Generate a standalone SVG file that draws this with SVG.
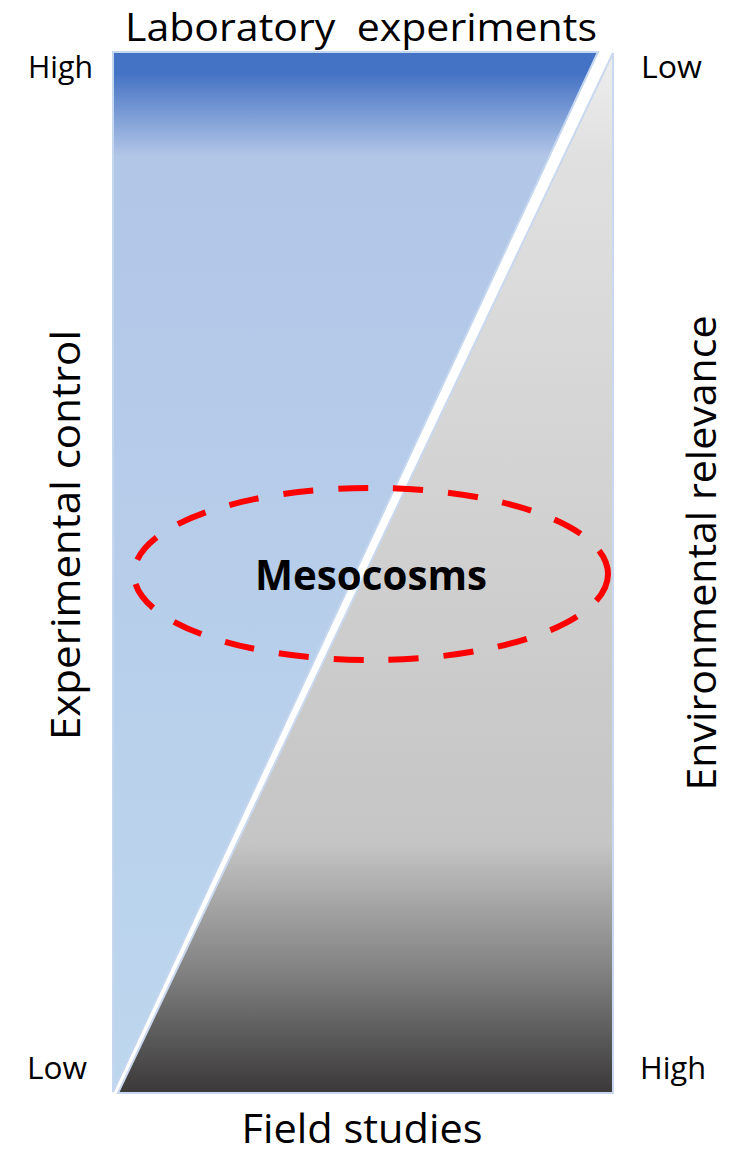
<svg xmlns="http://www.w3.org/2000/svg" width="746" height="1153" viewBox="0 0 746 1153">
  <style>
    .lbl { font-family: "Open Sans", "Liberation Sans", sans-serif; fill: #000; }
    .axis { font-size: 31px; }
    .title { font-size: 40px; }
    .top { font-size: 38px; }
  </style>
  <defs>
    <linearGradient id="gradControl" gradientUnits="userSpaceOnUse" x1="0" y1="52" x2="0" y2="1092">
      <stop offset="0" stop-color="#4472c4"/>
      <stop offset="0.02" stop-color="#4472c4"/>
      <stop offset="0.1" stop-color="#b2c6e7"/>
      <stop offset="1" stop-color="#bdd7ee"/>
    </linearGradient>
    <linearGradient id="gradRelevance" gradientUnits="userSpaceOnUse" x1="0" y1="53" x2="0" y2="1093">
      <stop offset="0" stop-color="#eeeeee"/>
      <stop offset="0.1" stop-color="#e0e0e0"/>
      <stop offset="0.5" stop-color="#cfcfcf"/>
      <stop offset="0.76" stop-color="#c5c5c5"/>
      <stop offset="0.88" stop-color="#838383"/>
      <stop offset="1" stop-color="#3a3838"/>
    </linearGradient>
  </defs>

  <!-- left wedge: experimental control, high at the top -->
  <g id="experimental-control-wedge">
    <polygon points="113,52 598,52 113,1092" fill="url(#gradControl)" stroke="#c5d6ef" stroke-width="2" stroke-linejoin="miter"/>
  </g>

  <!-- right wedge: environmental relevance, high at the bottom -->
  <g id="environmental-relevance-wedge">
    <polygon points="613,53 613,1093 118,1093" fill="url(#gradRelevance)" stroke="#c9d8ef" stroke-width="2" stroke-linejoin="miter"/>
  </g>

  <g id="mesocosms">
    <ellipse cx="371" cy="574" rx="237" ry="86" fill="none" stroke="#ff0000" stroke-width="6" stroke-dasharray="30 25"/>
    <text x="371" y="590" text-anchor="middle" font-family="'Open Sans', 'Liberation Sans', sans-serif" font-weight="bold" font-size="41" textLength="232" lengthAdjust="spacingAndGlyphs">Mesocosms</text>
  </g>

  <g id="labels">
    <text class="lbl top" x="361" y="41" text-anchor="middle" xml:space="preserve" textLength="472" lengthAdjust="spacingAndGlyphs">Laboratory  experiments</text>
    <text class="lbl title" x="362" y="1143" text-anchor="middle" textLength="241" lengthAdjust="spacingAndGlyphs">Field studies</text>
    <text class="lbl axis" x="28" y="78" textLength="65" lengthAdjust="spacingAndGlyphs">High</text>
    <text class="lbl axis" x="641" y="78" textLength="61" lengthAdjust="spacingAndGlyphs">Low</text>
    <text class="lbl axis" x="27" y="1079" textLength="60" lengthAdjust="spacingAndGlyphs">Low</text>
    <text class="lbl axis" x="640" y="1079" textLength="66" lengthAdjust="spacingAndGlyphs">High</text>
    <text class="lbl title" transform="translate(80,535) rotate(-90)" x="0" y="0" text-anchor="middle" textLength="410" lengthAdjust="spacingAndGlyphs">Experimental control</text>
    <text class="lbl title" transform="translate(716,553) rotate(-90)" x="0" y="0" text-anchor="middle" textLength="475" lengthAdjust="spacingAndGlyphs">Environmental relevance</text>
  </g>
</svg>
